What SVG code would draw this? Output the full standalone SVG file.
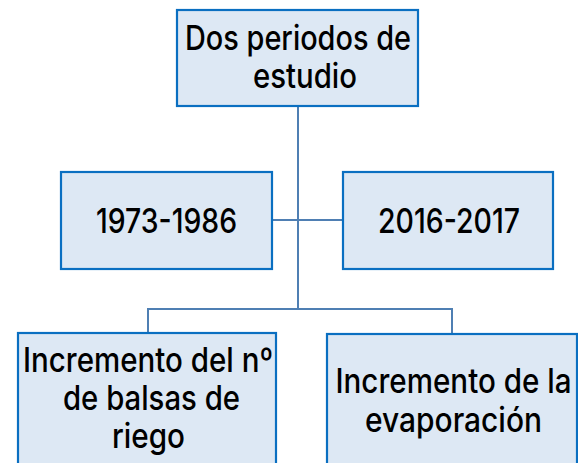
<svg xmlns="http://www.w3.org/2000/svg" width="578" height="463" viewBox="0 0 578 463">
<style>
.box{fill:#dde8f4;stroke:#0a6fc1;stroke-width:2.2}
.lbl{font-family:Inter,Roboto,"Liberation Sans",sans-serif;font-size:34px;font-weight:500;fill:#000;text-anchor:middle}
.conn{fill:none;stroke:#4f7fb3;stroke-width:2}
</style>
<rect width="578" height="463" fill="#ffffff"/>
<g id="connectors">
<path class="conn" d="M298,106 V309"/>
<path class="conn" d="M272,220 H343"/>
<path class="conn" d="M148,333 V309 H452 V334"/>
</g>
<g id="n-top">
<rect class="box" x="177" y="10" width="241" height="96"/>
<text class="lbl" x="298" y="50" textLength="226" lengthAdjust="spacingAndGlyphs">Dos periodos de</text>
<text class="lbl" x="305" y="88" textLength="104" lengthAdjust="spacingAndGlyphs">estudio</text>
</g>
<g id="n-1973">
<rect class="box" x="61" y="172" width="211" height="97"/>
<text class="lbl" x="166.5" y="233" textLength="141" lengthAdjust="spacingAndGlyphs">1973-1986</text>
</g>
<g id="n-2016">
<rect class="box" x="343" y="172" width="210" height="97"/>
<text class="lbl" x="449" y="233" textLength="142" lengthAdjust="spacingAndGlyphs">2016-2017</text>
</g>
<g id="n-balsas">
<rect class="box" x="18" y="333" width="258" height="140"/>
<text class="lbl" x="148" y="372" textLength="250" lengthAdjust="spacingAndGlyphs">Incremento del nº</text>
<text class="lbl" x="151.5" y="410" textLength="177" lengthAdjust="spacingAndGlyphs">de balsas de</text>
<text class="lbl" x="148.5" y="448" textLength="73" lengthAdjust="spacingAndGlyphs">riego</text>
</g>
<g id="n-evap">
<rect class="box" x="327" y="334" width="250" height="140"/>
<text class="lbl" x="453.5" y="393" textLength="236" lengthAdjust="spacingAndGlyphs">Incremento de la</text>
<text class="lbl" x="453.5" y="432" textLength="177" lengthAdjust="spacingAndGlyphs">evaporación</text>
</g>
</svg>
